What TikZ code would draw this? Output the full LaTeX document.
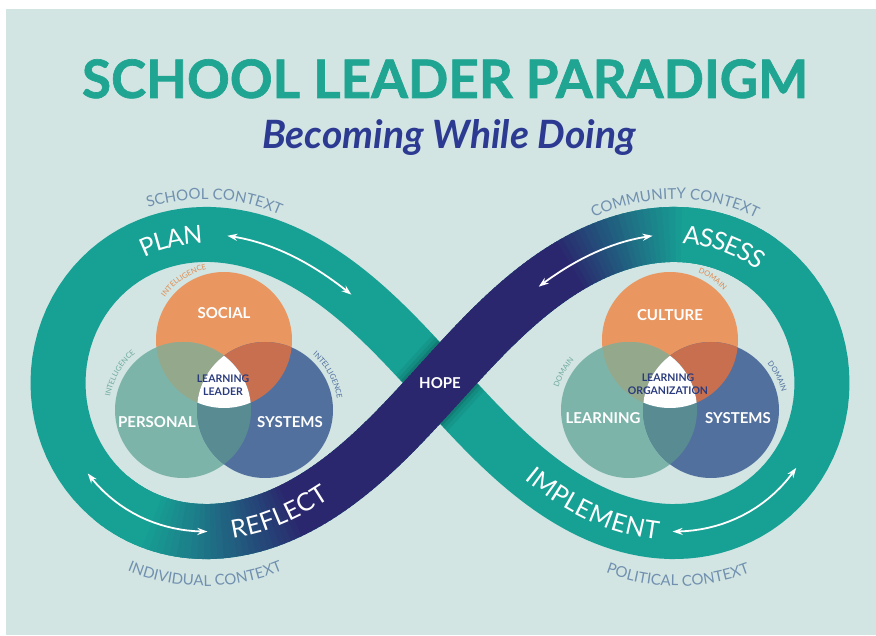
\documentclass[tikz,border=0pt]{standalone}
\usepackage{fontspec}
\setmainfont{Lato}
\newfontfamily\titlefont{Lato}[UprightFeatures={FakeBold=1.2},BoldFeatures={FakeBold=1.2}]
\usepackage{tikz}
\usetikzlibrary{arrows.meta, calc, decorations.text}

\definecolor{bgteal}{HTML}{D2E5E3}
\definecolor{bandteal}{HTML}{17A094}
\definecolor{titleteal}{HTML}{1FA592}
\definecolor{bandnavy}{HTML}{2A276E}
\definecolor{subnavy}{HTML}{2C3A92}
\definecolor{ctxblue}{HTML}{7190AF}
\definecolor{vorange}{HTML}{E99660}
\definecolor{vteal}{HTML}{7DB4AA}
\definecolor{vblue}{HTML}{52709E}
\definecolor{vot}{HTML}{94A98C}
\definecolor{vob}{HTML}{C86F50}
\definecolor{vtb}{HTML}{588C92}
\definecolor{coretext}{HTML}{2B3C7E}
\definecolor{ringorange}{HTML}{E08A50}
\definecolor{ringteal}{HTML}{6FA9A0}
\definecolor{ringblue}{HTML}{4F6E9C}

\newcommand\ctxfont{\color{ctxblue}\fontsize{15}{15}\selectfont}
\newcommand\bandfont{\color{white}\fontsize{25}{25}\selectfont}
\newcommand\ringfont{\fontsize{7.5}{7.5}\selectfont}

\tikzset{
	declare function={
		lx(\t)=440+382*cos(\t)/(1+sin(\t)*sin(\t));
		ly(\t)=252+420.2*sin(\t)*cos(\t)/(1+sin(\t)*sin(\t));
	},
	band/.style={line width=55},
	twoway/.style={white, line width=1.8,
		{Stealth[length=10pt,width=7pt]}-{Stealth[length=10pt,width=7pt]}},
	title/.style={anchor=base, inner sep=0, text=titleteal,
		font=\titlefont\bfseries\fontsize{53}{53}\selectfont},
	subtitle/.style={anchor=base, inner sep=0, text=subnavy,
		font=\bfseries\itshape\fontsize{39}{39}\selectfont},
	vennlabel/.style={text=white, inner sep=0,
		font=\bfseries\fontsize{15}{15}\selectfont},
	corelabel/.style={text=coretext, inner sep=0, align=center,
		font=\bfseries\fontsize{10.5}{13}\selectfont},
	hopelabel/.style={text=white, inner sep=0,
		font=\bfseries\fontsize{15}{15}\selectfont},
	ctxlabel/.style={decorate, decoration={text along path,
		text align=center, text={|\ctxfont|#1}}},
	bandlabel/.style={decorate, decoration={text along path,
		text align=center, raise=-9pt, text={|\bandfont|#1}}},
	ringlabel/.style 2 args={decorate, decoration={text along path,
		text align=center, text={|\ringfont\color{#1}|#2}}}
}

\begin{document}
\begin{tikzpicture}[x=1pt,y=1pt]

	\useasboundingbox (0,0) rectangle (876,635);
	\fill[white] (0,0) rectangle (876,635);
	\fill[bgteal] (6,0) rectangle (876,626);

	\node[title] (title) at (445,537) {SCHOOL LEADER PARADIGM};
	\node[subtitle] (subtitle) at (449,486) {Becoming While Doing};

	%% the infinity band
	\draw[band, bandteal, line join=round]
		plot[domain=0:360, samples=241] ({lx(\x)},{ly(\x)}) -- cycle;

	\begin{scope}
		\clip (392.7,344.2) -- (352.7,307.8) -- (487.3,159.8) -- (527.3,196.2) -- cycle;
		\foreach \w/\o in {76/0.05,68/0.07,61/0.1}
			\draw[line width=\w, black, opacity=\o]
				plot[domain=65:115, samples=26] ({lx(\x)},{ly(\x)});
	\end{scope}

	\foreach \t in {20,21,...,160}
	{
		\pgfmathtruncatemacro\p{100*max(0,min(1,min((\t-33)/22,(154-\t)/26)))}
		\draw[band, bandnavy!\p!bandteal]
			plot[domain=\t:\t+1.6, samples=3] ({lx(\x)},{ly(\x)});
	}

	\draw[twoway] plot[domain=219:245, samples=20] ({lx(\x)},{ly(\x)});
	\draw[twoway] plot[domain=39:62.5, samples=20] ({lx(\x)},{ly(\x)});
	\draw[twoway] plot[domain=144.5:166.5, samples=20] ({lx(\x)},{ly(\x)});
	\draw[twoway] plot[domain=324.5:347.5, samples=20] ({lx(\x)},{ly(\x)});

	\path[bandlabel=PLAN] plot[domain=195:225, samples=30] ({lx(\x)},{ly(\x)});
	\path[bandlabel=ASSESS] plot[domain=0:40, samples=40] ({lx(48-\x)},{ly(48-\x)});
	\path[bandlabel=REFLECT] plot[domain=0:44, samples=40] ({lx(152-\x)},{ly(152-\x)});
	\path[bandlabel=IMPLEMENT] plot[domain=284:332, samples=40] ({lx(\x)},{ly(\x)});

	\node[hopelabel] (hope) at (440,252) {HOPE};

	%% contexts
	\path[ctxlabel={SCHOOL CONTEXT}] (205,252) ++(130:184) arc[start angle=130, end angle=44, radius=184];
	\path[ctxlabel={COMMUNITY CONTEXT}] (675,252) ++(135:184) arc[start angle=135, end angle=45, radius=184];
	\path[ctxlabel={INDIVIDUAL CONTEXT}] (205,252) ++(225:203) arc[start angle=225, end angle=315, radius=203];
	\path[ctxlabel={POLITICAL CONTEXT}] (678,252) ++(225:203) arc[start angle=225, end angle=315, radius=203];

	%% the two venns
	\def\rad{68}
	\coordinate (lo) at (224,295);
	\coordinate (lp) at (183,225);
	\coordinate (ls) at (265,225);
	\coordinate (ro) at (670,295);
	\coordinate (rp) at (629,225);
	\coordinate (rs) at (711,225);

	\foreach \vo/\vp/\vs in {lo/lp/ls,ro/rp/rs}
	{
		\fill[vorange] (\vo) circle[radius=\rad];
		\fill[vteal] (\vp) circle[radius=\rad];
		\fill[vblue] (\vs) circle[radius=\rad];
		\begin{scope}
			\clip (\vo) circle[radius=\rad];
			\fill[vot] (\vp) circle[radius=\rad];
		\end{scope}
		\begin{scope}
			\clip (\vo) circle[radius=\rad];
			\fill[vob] (\vs) circle[radius=\rad];
		\end{scope}
		\begin{scope}
			\clip (\vp) circle[radius=\rad];
			\fill[vtb] (\vs) circle[radius=\rad];
		\end{scope}
		\begin{scope}
			\clip (\vo) circle[radius=\rad];
			\clip (\vp) circle[radius=\rad];
			\fill[white] (\vs) circle[radius=\rad];
		\end{scope}
	}

	\node[vennlabel] (social) at (224,322) {SOCIAL};
	\node[vennlabel] (personal) at (157,213) {PERSONAL};
	\node[vennlabel] (lsystems) at (290,213) {SYSTEMS};
	\node[corelabel] (leader) at (223,250) {LEARNING\\LEADER};

	\node[vennlabel] (culture) at (670,320) {CULTURE};
	\node[vennlabel] (learning) at (603,217) {LEARNING};
	\node[vennlabel] (rsystems) at (738,217) {SYSTEMS};
	\node[corelabel] (organization) at (668,251) {LEARNING\\ORGANIZATION};

	\path[ringlabel={ringorange}{INTELLIGENCE}] (lo) ++(160:73) arc[start angle=160, end angle=88, radius=73];
	\path[ringlabel={ringteal}{INTELLIGENCE}] (lp) ++(185:74) arc[start angle=185, end angle=115, radius=74];
	\path[ringlabel={ringblue}{INTELLIGENCE}] (ls) ++(65:73) arc[start angle=65, end angle=-7, radius=73];
	\path[ringlabel={ringorange}{DOMAIN}] (ro) ++(90:73) arc[start angle=90, end angle=20, radius=73];
	\path[ringlabel={ringteal}{DOMAIN}] (rp) ++(185:74) arc[start angle=185, end angle=115, radius=74];
	\path[ringlabel={ringblue}{DOMAIN}] (rs) ++(62:73) arc[start angle=62, end angle=-8, radius=73];

\end{tikzpicture}
\end{document}
